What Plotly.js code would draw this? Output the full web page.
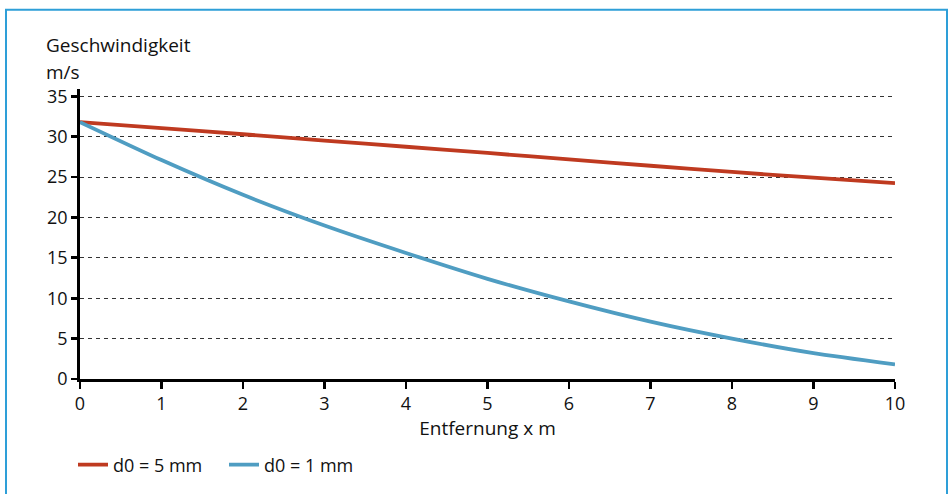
<!DOCTYPE html>
<html>
<head>
<meta charset="utf-8">
<script src="https://cdn.plot.ly/plotly-3.0.1.min.js"></script>
<style>
  html, body { margin: 0; padding: 0; background: #fff; }
  #chart { width: 949px; height: 494px; }
</style>
</head>
<body>
<div id="chart"></div>
<script>
// Distance in metres
const distance = [0, 1, 2, 3, 4, 5, 6, 7, 8, 9, 10];
// Velocity (m/s) for d0 = 5 mm
const speed5mm = [31.8, 31.05, 30.3, 29.52, 28.75, 27.98, 27.18, 26.4, 25.63, 24.92, 24.26];
// Velocity (m/s) for d0 = 1 mm
const speed1mm = [31.8, 27.1, 22.8, 19.0, 15.6, 12.4, 9.6, 7.1, 5.0, 3.2, 1.8];
// Labels
const seriesNames = ['d0 = 5 mm', 'd0 = 1 mm'];
const yTitleLines = ['Geschwindigkeit', 'm/s'];
const xTitle = 'Entfernung x m';
const yTicks = [0, 5, 10, 15, 20, 25, 30, 35];
const xTicks = [0, 1, 2, 3, 4, 5, 6, 7, 8, 9, 10];

const font = 'Open Sans, Noto Sans, sans-serif';
const FS = 18;
const FT = 19;
const TXT = '#111111';

const traces = [
  {
    x: distance, y: speed5mm, name: seriesNames[0], type: 'scatter', mode: 'lines',
    line: { color: '#bf3a20', width: 3.8, shape: 'spline', smoothing: 0.6 },
    cliponaxis: false
  },
  {
    x: distance, y: speed1mm, name: seriesNames[1], type: 'scatter', mode: 'lines',
    line: { color: '#4f9dc2', width: 3.8, shape: 'spline', smoothing: 0.6 },
    cliponaxis: false
  }
];

const L = 80, R = 54, T = 89, B = 114;
const W = 949 - L - R, H = 494 - T - B;
const px = v => (v - L) / W;
const py = v => (494 - B - v) / H;

const layout = {
  width: 949, height: 494,
  margin: { l: L, r: R, t: T, b: B },
  paper_bgcolor: '#ffffff', plot_bgcolor: '#ffffff',
  font: { family: font, size: FS, color: TXT },
  showlegend: true,
  legend: {
    orientation: 'h', x: px(73), xanchor: 'left', y: py(465), yanchor: 'middle',
    font: { family: font, size: FS, color: TXT },
    itemwidth: 30, entrywidth: 106, entrywidthmode: 'pixels', bgcolor: 'rgba(0,0,0,0)'
  },
  xaxis: {
    range: [0, 10], tickvals: xTicks, ticktext: xTicks.map(String),
    showline: true, linecolor: '#000', linewidth: 2.8,
    ticks: 'outside', ticklen: 7, tickwidth: 2.8, tickcolor: '#000',
    showgrid: false, zeroline: false,
    tickfont: { family: font, size: FS, color: TXT },
    title: { text: xTitle, font: { family: font, size: FT, color: TXT }, standoff: 2 },
    fixedrange: true
  },
  yaxis: {
    range: [0, 35.9], tickvals: yTicks, ticktext: yTicks.map(String),
    showline: true, linecolor: '#000', linewidth: 2.8,
    ticks: 'outside', ticklen: 6, tickwidth: 2.8, tickcolor: '#000',
    showgrid: true, gridcolor: '#333', gridwidth: 1, griddash: '4px,4px',
    zeroline: false,
    tickfont: { family: font, size: FS, color: TXT },
    fixedrange: true
  },
  annotations: [
    {
      text: yTitleLines[0], xref: 'paper', yref: 'paper', x: px(44), y: py(45),
      xanchor: 'left', yanchor: 'middle', align: 'left', showarrow: false,
      font: { family: font, size: FT, color: TXT }
    },
    {
      text: yTitleLines[1], xref: 'paper', yref: 'paper', x: px(44), y: py(72),
      xanchor: 'left', yanchor: 'middle', align: 'left', showarrow: false,
      font: { family: font, size: FT, color: TXT }
    }
  ],
  shapes: [
    {
      type: 'rect', xref: 'paper', yref: 'paper',
      x0: px(6), x1: px(947), y0: py(520), y1: py(9.5),
      line: { color: '#2e9fd8', width: 2 }, fillcolor: 'rgba(0,0,0,0)', layer: 'below'
    }
  ]
};

Plotly.newPlot('chart', traces, layout, { displayModeBar: false, staticPlot: true });
</script>
</body>
</html>
